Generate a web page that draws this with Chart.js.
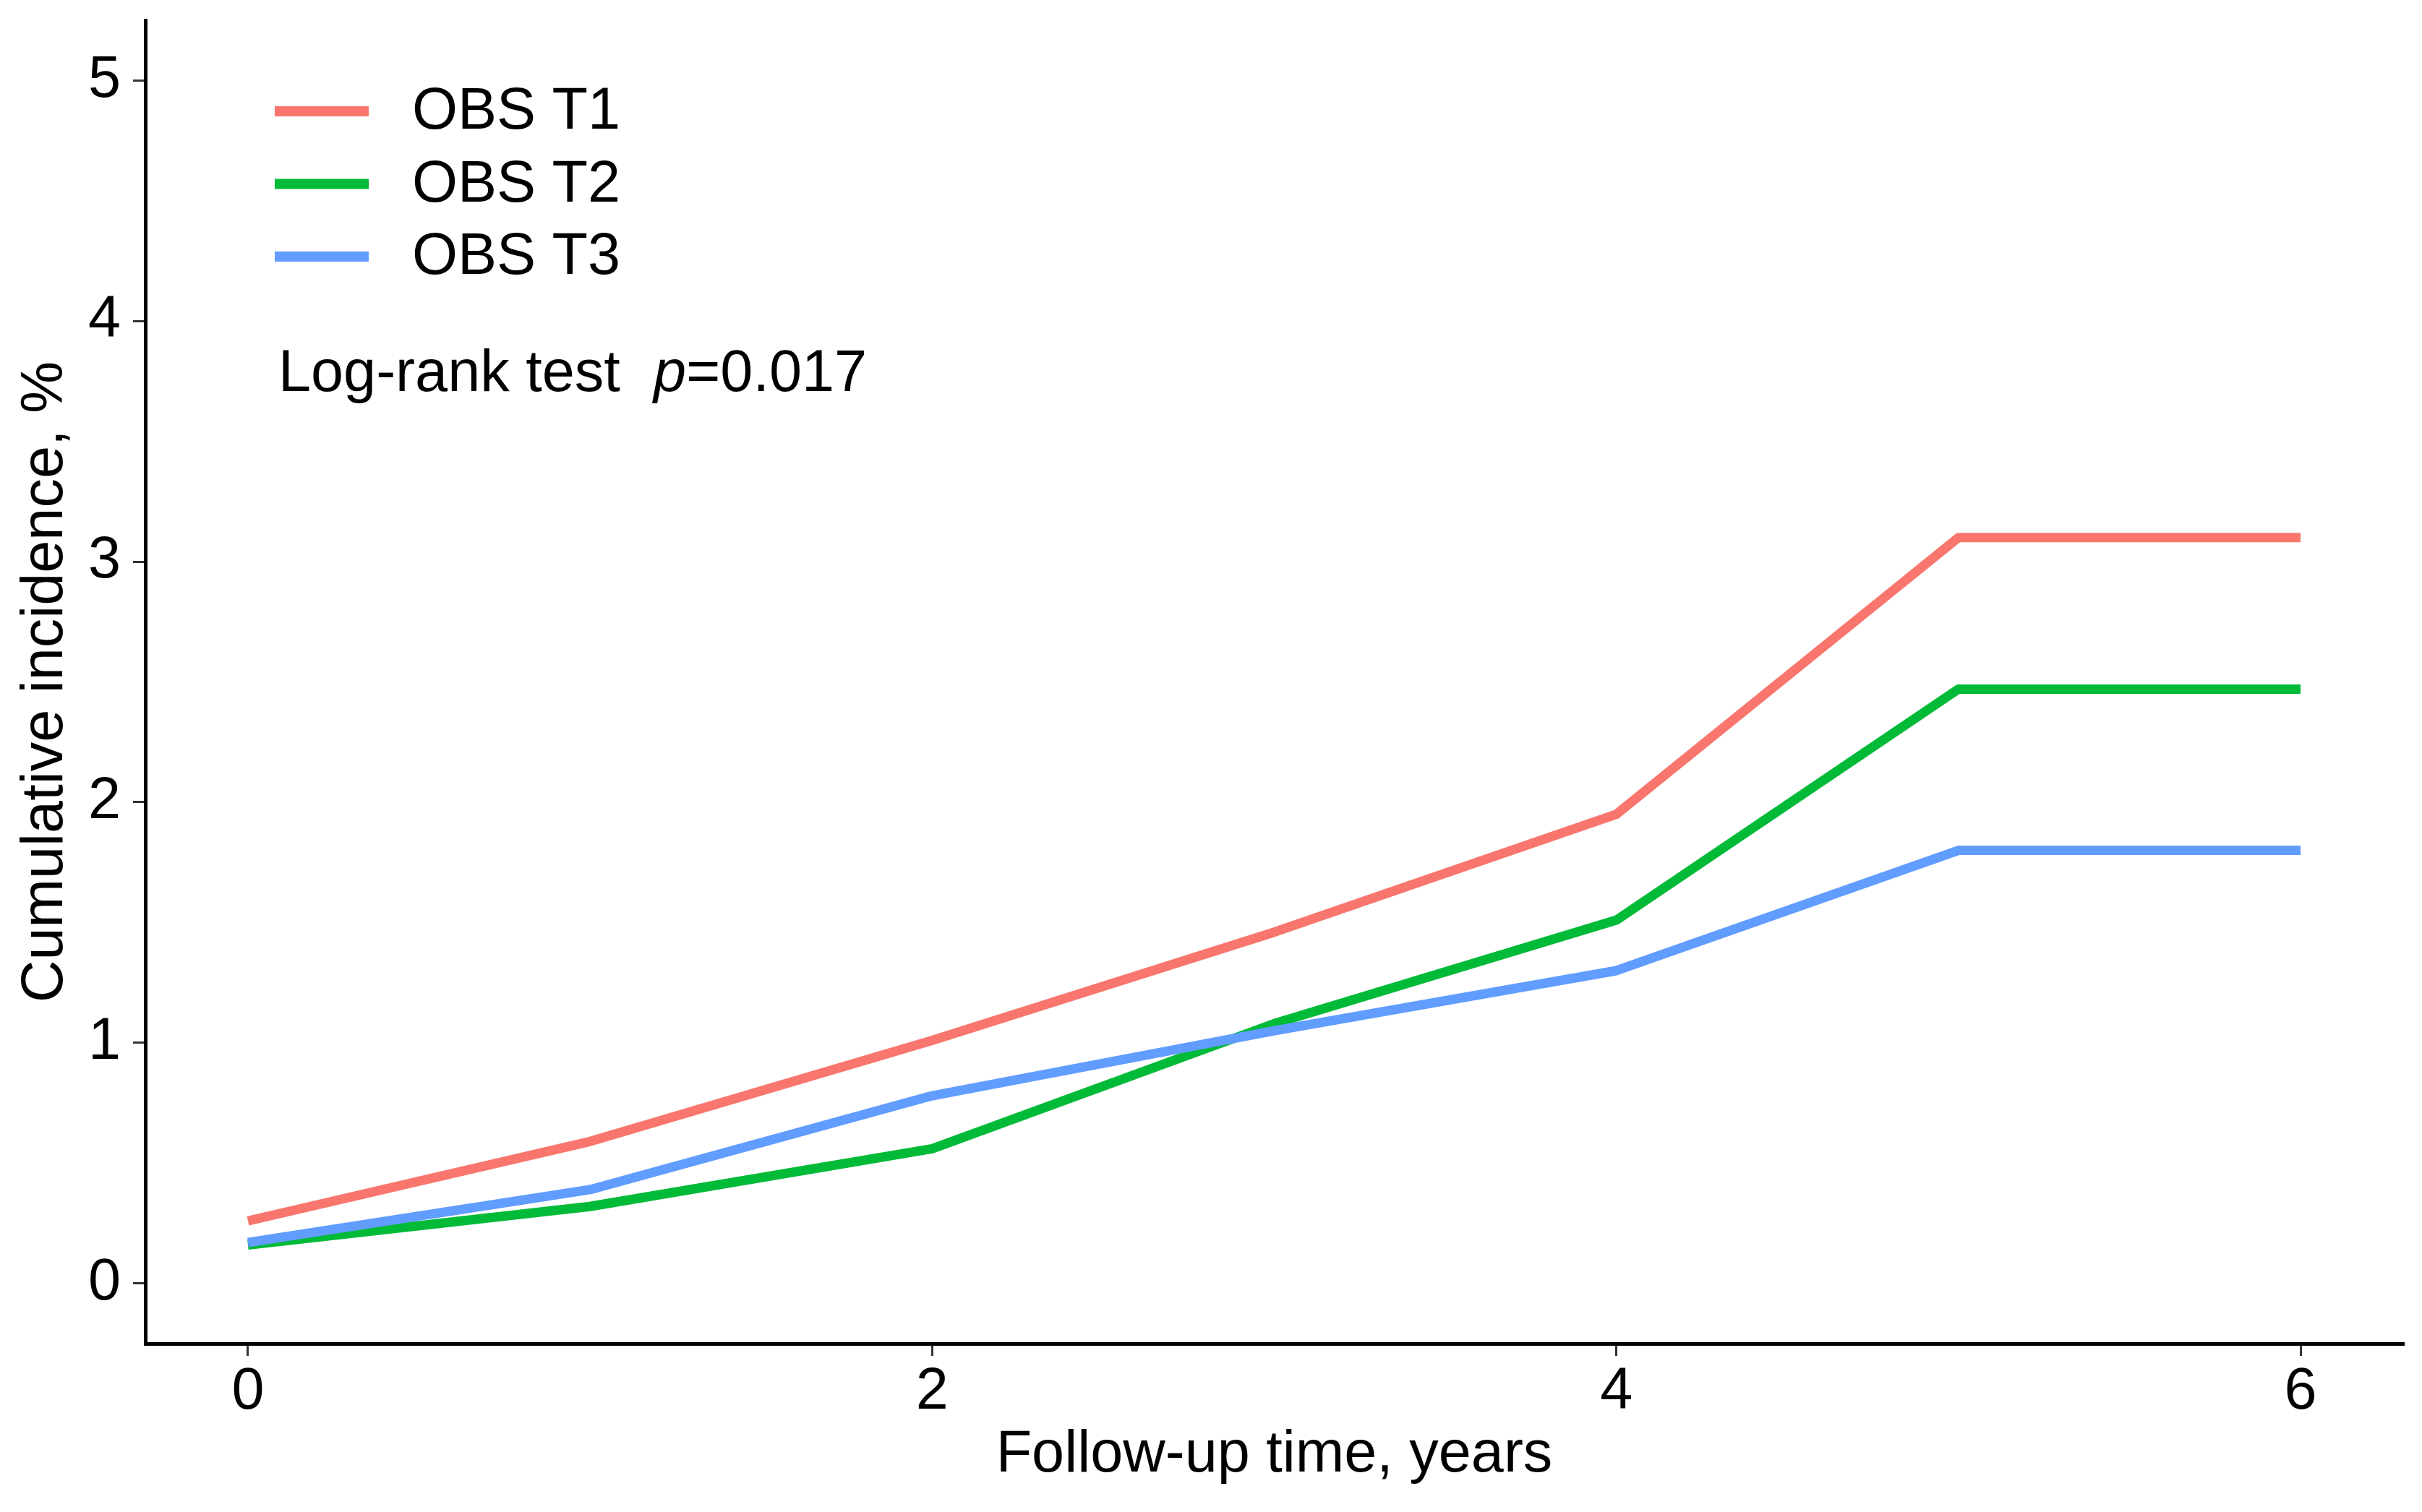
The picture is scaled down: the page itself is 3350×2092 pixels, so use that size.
<!DOCTYPE html>
<html>
<head>
<meta charset="utf-8">
<script src="https://cdn.jsdelivr.net/npm/chart.js@4.4.1/dist/chart.umd.min.js"></script>
<style>
  html, body { margin: 0; padding: 0; background: #fff; }
  canvas { display: block; }
</style>
</head>
<body>
<canvas id="incidenceChart" width="3350" height="2092"></canvas>
<script>
// data
const years = [0, 1, 2, 3, 4, 5, 6];
const obsT1 = [0.26, 0.59, 1.01, 1.46, 1.95, 3.10, 3.10];
const obsT2 = [0.16, 0.32, 0.56, 1.08, 1.51, 2.47, 2.47];
const obsT3 = [0.17, 0.39, 0.78, 1.05, 1.30, 1.80, 1.80];
const seriesNames = ['OBS T1', 'OBS T2', 'OBS T3'];
const xTicks = [0, 2, 4, 6];
const yTicks = [0, 1, 2, 3, 4, 5];
const testLabel = 'Log-rank test';
const pValue = '=0.017';

const colors = ['#F8766D', '#00BA38', '#619CFF'];
const FONT = '"Liberation Sans", Arial, sans-serif';
const FS = 81;

function toPoints(ys) {
    return years.map((x, i) => ({ x: x, y: ys[i] }));
}

// legend and annotation drawn inside the plot, like the ggplot original
const insideLegend = {
    id: 'insideLegend',
    afterDraw(chart) {
        const ctx = chart.ctx;
        ctx.save();
        chart.data.datasets.forEach((ds, i) => {
            const y = 154 + i * 100.5;
            ctx.strokeStyle = ds.borderColor;
            ctx.lineWidth = 14;
            ctx.lineCap = 'butt';
            ctx.beginPath();
            ctx.moveTo(380, y);
            ctx.lineTo(510, y);
            ctx.stroke();
            ctx.fillStyle = '#000';
            ctx.font = FS + 'px ' + FONT;
            ctx.textBaseline = 'middle';
            ctx.textAlign = 'left';
            ctx.fillText(ds.label, 570, y + 2);
        });
        // log-rank text
        ctx.textBaseline = 'alphabetic';
        ctx.font = FS + 'px ' + FONT;
        ctx.fillText(testLabel, 385, 541);
        ctx.font = 'italic ' + FS + 'px ' + FONT;
        ctx.fillText('p', 904, 541);
        const pw = ctx.measureText('p').width;
        ctx.font = FS + 'px ' + FONT;
        ctx.fillText(pValue, 904 + pw, 541);
        ctx.restore();
    }
};

const ctx = document.getElementById('incidenceChart').getContext('2d');
new Chart(ctx, {
    type: 'line',
    data: {
        datasets: [
            { label: seriesNames[0], data: toPoints(obsT1), borderColor: colors[0], order: 2 },
            { label: seriesNames[1], data: toPoints(obsT2), borderColor: colors[1], order: 1 },
            { label: seriesNames[2], data: toPoints(obsT3), borderColor: colors[2], order: 0 }
        ]
    },
    options: {
        responsive: false,
        devicePixelRatio: 1,
        animation: false,
        layout: { padding: { top: 28, right: 26, left: 0, bottom: 0 } },
        elements: {
            line: { borderWidth: 13, tension: 0, fill: false, borderJoinStyle: 'round' },
            point: { radius: 0, hoverRadius: 0 }
        },
        plugins: {
            legend: { display: false },
            tooltip: { enabled: false }
        },
        scales: {
            x: {
                type: 'linear',
                min: -0.3,
                max: 6.3,
                afterBuildTicks: (scale) => { scale.ticks = xTicks.map(v => ({ value: v })); },
                afterFit: (scale) => {
                    scale.height = 233;
                    scale.paddingLeft = 0;
                    scale.paddingRight = 0;
                },
                grid: { drawOnChartArea: false, drawTicks: true, tickLength: 17, color: '#333', lineWidth: 3 },
                border: { display: true, color: '#000', width: 5 },
                ticks: { color: '#000', font: { family: FONT, size: FS }, padding: 2, maxRotation: 0 },
                title: {
                    display: true,
                    text: 'Follow-up time, years',
                    color: '#000',
                    font: { family: FONT, size: FS },
                    padding: { top: 0, bottom: 30 }
                }
            },
            y: {
                type: 'linear',
                min: -0.25,
                max: 5.25,
                afterBuildTicks: (scale) => { scale.ticks = yTicks.map(v => ({ value: v })); },
                afterFit: (scale) => {
                    scale.width = 201;
                    scale.paddingTop = 0;
                    scale.paddingBottom = 0;
                },
                grid: { drawOnChartArea: false, drawTicks: true, tickLength: 17, color: '#333', lineWidth: 3 },
                border: { display: true, color: '#000', width: 5 },
                ticks: { color: '#000', font: { family: FONT, size: FS }, padding: 17 },
                title: {
                    display: true,
                    text: 'Cumulative incidence, %',
                    color: '#000',
                    font: { family: FONT, size: FS },
                    padding: { top: 15, bottom: 0 }
                }
            }
        }
    },
    plugins: [insideLegend]
});
</script>
</body>
</html>
